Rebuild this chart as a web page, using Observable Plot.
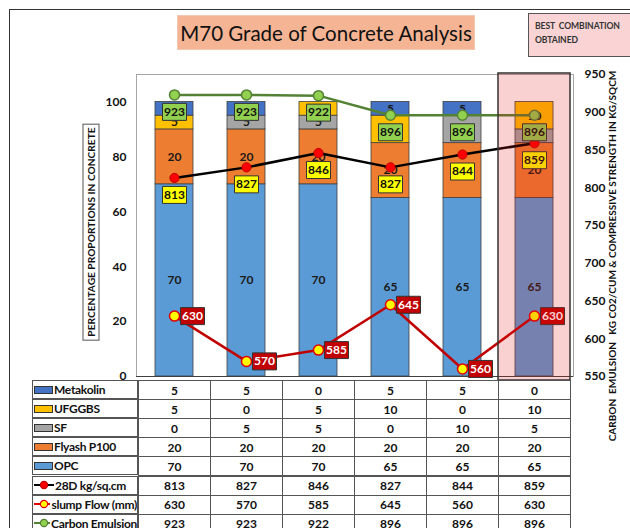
<!DOCTYPE html>
<html><head><meta charset="utf-8">
<script src="https://cdn.jsdelivr.net/npm/d3@7"></script>
<script src="https://cdn.jsdelivr.net/npm/@observablehq/plot@0.6"></script>
<style>
body{margin:0;background:#fff;}
#wrap{position:relative;width:630px;height:528px;overflow:hidden;background:#fff;font-family:Lato,"Open Sans",sans-serif;color:#111;}
#wrap > svg{position:absolute;left:0;top:0;}
.abs{position:absolute;}
.rot{position:absolute;white-space:nowrap;transform:translate(-50%,-50%) rotate(-90deg);font-weight:bold;}
.cell{position:absolute;box-sizing:border-box;display:flex;align-items:center;justify-content:center;font-weight:bold;font-size:12px;}
</style></head><body><div id="wrap"></div>
<script>
// ---- data ----
const categories = ["Mix 1","Mix 2","Mix 3","Mix 4","Mix 5","Mix 6"];
const metakolin = [5,5,0,5,5,0];
const ufggbs    = [5,0,5,10,0,10];
const sf        = [0,5,5,0,10,5];
const flyash    = [20,20,20,20,20,20];
const opc       = [70,70,70,65,65,65];
const strength28 = [813,827,846,827,844,859];
const slumpFlow  = [630,570,585,645,560,630];
const carbonEm   = [923,923,922,896,896,896];
const leftTicks  = [0,20,40,60,80,100];
const rightTicks = [550,600,650,700,750,800,850,900,950];
const bestIndex = 5;

const comps = [
  {name:"OPC", vals:opc, color:"#5B9BD5"},
  {name:"Flyash P100", vals:flyash, color:"#ED7D31"},
  {name:"SF", vals:sf, color:"#A5A5A5"},
  {name:"UFGGBS", vals:ufggbs, color:"#FFC000"},
  {name:"Metakolin", vals:metakolin, color:"#4472C4"}
];
const rows = categories.flatMap((c,i)=>comps.map(k=>({cat:c, comp:k.name, value:k.vals[i]})));
const toLeft = v => (v-550)/400*110;
const toRight = v => Math.round(v/110*400+550);
const series = vals => categories.map((c,i)=>({cat:c, v:vals[i]}));
const s28 = series(strength28), sSlump = series(slumpFlow), sCarbon = series(carbonEm);
const box = {draw(ctx){ ctx.rect(-12,-8.5,24,17); }};
const yv = d => toLeft(d.v);
const lblFont = {fontSize:12, fontWeight:"bold"};

const plot = Plot.plot({
  width:630, height:380,
  marginLeft:136, marginRight:57, marginTop:74, marginBottom:4,
  style:{fontFamily:"Lato, sans-serif", fontSize:"12px", fontWeight:"bold", color:"#111", background:"transparent", overflow:"visible"},
  x:{domain:categories, axis:null, paddingInner:0.47, paddingOuter:0.235},
  y:{domain:[0,110], axis:null},
  color:{domain:comps.map(d=>d.name), range:comps.map(d=>d.color)},
  marks:[
    Plot.frame({stroke:"#a6a6a6"}),
    Plot.barY(rows, Plot.stackY({x:"cat", y:"value", fill:"comp", stroke:"#404040", strokeWidth:0.8})),
    Plot.text(rows, Plot.stackY({filter:d=>d.value>0, x:"cat", y:"value", text:"value", fill:"#1a1a1a", ...lblFont})),
    Plot.ruleY([0], {stroke:"#404040", strokeWidth:1.2}),
    Plot.line(sSlump, {x:"cat", y:yv, stroke:"#C00000", strokeWidth:2.5}),
    Plot.line(s28, {x:"cat", y:yv, stroke:"#000", strokeWidth:2.5}),
    Plot.line(sCarbon, {x:"cat", y:yv, stroke:"#548235", strokeWidth:2.5}),
    Plot.dot(s28, {x:"cat", y:yv, r:4.6, fill:"#FF0000", stroke:"#C00000", strokeWidth:1}),
    Plot.dot(sSlump, {x:"cat", y:yv, r:5, fill:"#FFFF00", stroke:"#E00000", strokeWidth:1.5}),
    Plot.dot(sCarbon, {x:"cat", y:yv, r:5, fill:"#92D050", stroke:"#548235", strokeWidth:1.5}),
    Plot.dot(s28, {x:"cat", y:yv, r:5, symbol:box, dy:17, fill:"#FFFF00", stroke:"#333", strokeWidth:1}),
    Plot.text(s28, {x:"cat", y:yv, text:"v", dy:17, fill:"#111", ...lblFont}),
    Plot.dot(sCarbon, {x:"cat", y:yv, r:5, symbol:box, dy:17, fill:"#92D050", stroke:"#333", strokeWidth:1}),
    Plot.text(sCarbon, {x:"cat", y:yv, text:"v", dy:17, fill:"#111", ...lblFont}),
    Plot.dot(sSlump, {x:"cat", y:yv, r:5, symbol:box, dx:18, fill:"#C00000", stroke:"#333", strokeWidth:1}),
    Plot.text(sSlump, {x:"cat", y:yv, text:"v", dx:18, fill:"#fff", ...lblFont}),
    Plot.barY([categories[bestIndex]], {x:d=>d, y1:0, y2:110, fill:"rgb(230,25,25)", fillOpacity:0.2, stroke:"#333", strokeWidth:1.5, insetLeft:-17, insetRight:-17, insetTop:-1, insetBottom:-4}),
    Plot.axisY(leftTicks, {anchor:"left", tickSize:0, tickPadding:10, label:null}),
    Plot.axisY(rightTicks.map(toLeft), {anchor:"right", tickSize:0, tickPadding:11, label:null, tickFormat:d=>toRight(d)})
  ]
});
const wrap = document.getElementById("wrap");
wrap.appendChild(plot);

function add(html, css, cls="abs"){ const d=document.createElement("div"); d.className=cls; d.innerHTML=html; Object.assign(d.style, css); wrap.appendChild(d); return d; }

// outer frame
add("", {left:"9px", top:"9px", width:"700px", height:"600px", borderLeft:"1.5px solid #333", borderTop:"1.5px solid #333"});
// title
add("M70 Grade of Concrete Analysis", {left:"177px", top:"15px", width:"298px", height:"35px", background:"#F5B594", border:"1px solid #F0C8B0", boxSizing:"border-box", display:"flex", alignItems:"center", justifyContent:"center", fontSize:"20.5px", color:"#111"});
// best combination box
add("BEST&nbsp; COMBINATION<br>OBTAINED", {left:"528px", top:"13px", width:"120px", height:"44px", background:"#FAD3D5", border:"1px solid #555", boxSizing:"border-box", padding:"5px 6px", fontSize:"8.6px", fontWeight:"bold", lineHeight:"14px", color:"#333", letterSpacing:"-0.1px", whiteSpace:"nowrap"});
// axis titles
add("PERCENTAGE PROPORTIONS IN CONCRETE", {left:"91px", top:"232px", fontSize:"10.2px", border:"1px solid #555", padding:"0 3px", lineHeight:"15px"}, "rot");
add("CARBON&nbsp; EMULSION&nbsp;&nbsp; KG CO2/CUM &amp; COMPRESSIVE STRENGTH IN KG/SQCM", {left:"612px", top:"256px", fontSize:"10px"}, "rot");

// data table
const xs = plot.scale("x");
const step = xs.step ?? (xs.bandwidth/(1-0.47));
const centers = categories.map(c => xs.apply(c) + xs.bandwidth/2);
const tableRows = [
  {label:"Metakolin", vals:metakolin, key:"bar", color:"#4472C4"},
  {label:"UFGGBS", vals:ufggbs, key:"bar", color:"#FFC000"},
  {label:"SF", vals:sf, key:"bar", color:"#A5A5A5"},
  {label:"Flyash P100", vals:flyash, key:"bar", color:"#ED7D31"},
  {label:"OPC", vals:opc, key:"bar", color:"#5B9BD5"},
  {label:"28D kg/sq.cm", vals:strength28, key:"line", line:"#000", fill:"#FF0000", stroke:"#C00000"},
  {label:"slump Flow (mm)", vals:slumpFlow, key:"line", line:"#E00000", fill:"#FFFF00", stroke:"#E00000"},
  {label:"Carbon Emulsion", vals:carbonEm, key:"line", line:"#548235", fill:"#92D050", stroke:"#548235"}
];
const top0 = 380, rh = 19.1, left0 = 32;
const x0 = centers[0]-step/2;
tableRows.forEach((r,i)=>{
  const y = top0 + i*rh;
  const keySvg = r.key==="bar"
    ? `<svg width="19" height="10" style="margin-right:1px"><rect x="0.5" y="1.5" width="18" height="7" fill="${r.color}" stroke="#333" stroke-width="1"/></svg>`
    : `<svg width="20" height="10" style="margin-right:1px"><line x1="0" y1="5" x2="20" y2="5" stroke="${r.line}" stroke-width="2"/><circle cx="10" cy="5" r="3.6" fill="${r.fill}" stroke="${r.stroke}" stroke-width="1.2"/></svg>`;
  add(keySvg + r.label, {left:left0+"px", top:y+"px", width:(x0-left0)+"px", height:rh+"px", border:"1px solid #555", justifyContent:"flex-start", paddingLeft:"1px", fontSize:"12px", letterSpacing:"-0.3px", whiteSpace:"nowrap", overflow:"hidden"}, "cell");
  r.vals.forEach((v,j)=>{
    add(String(v), {left:(centers[j]-step/2)+"px", top:y+"px", width:(step+1)+"px", height:(rh+1)+"px", border:"1px solid #555"}, "cell");
  });
});
</script></body></html>
